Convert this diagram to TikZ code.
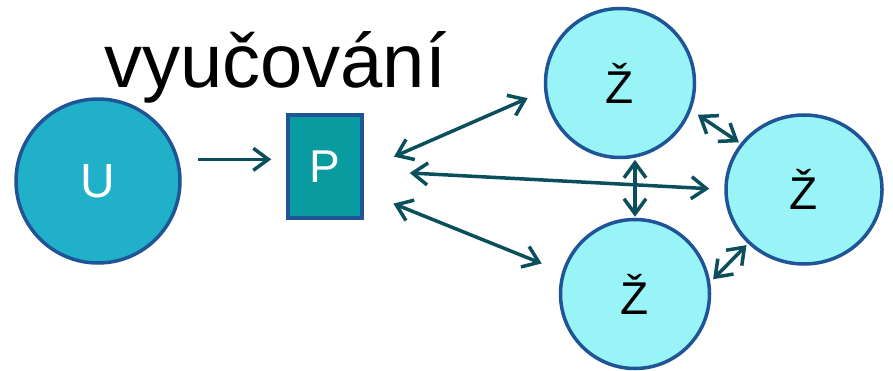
\documentclass[tikz,border=0pt]{standalone}
\usepackage{fontspec}
\setmainfont{Liberation Sans}
\usetikzlibrary{arrows.meta,shapes.geometric}
\definecolor{ucol}{RGB}{32,176,200}
\definecolor{pcol}{RGB}{8,156,160}
\definecolor{zcol}{RGB}{153,244,248}
\definecolor{bordercol}{RGB}{31,85,150}
\definecolor{arrcol}{RGB}{12,79,92}
\tikzset{
  bubble/.style={circle, draw=bordercol, line width=3.5pt, inner sep=0pt},
  zbubble/.style={bubble, fill=zcol, font=\fontsize{46}{50}\selectfont, text=black},
  conn/.style={draw=arrcol, line width=3.5pt},
  onehead/.style={conn, -{Straight Barb[length=15pt,width=22pt]}},
  twohead/.style={conn, {Straight Barb[length=15pt,width=22pt]}-{Straight Barb[length=15pt,width=22pt]}}
}
\begin{document}
\begin{tikzpicture}[x=1pt,y=-1pt]
\fill[white] (0,0) rectangle (893,371);
\useasboundingbox (0,0) rectangle (893,371);
\node[anchor=base west, inner sep=0pt, font=\fontsize{76}{80}\selectfont] (title) at (104,88) {vyučování};
\node[bubble, fill=ucol, minimum size=164pt, text=white, font=\fontsize{48}{52}\selectfont] (U) at (98,181) {U};
\node[rectangle, draw=bordercol, line width=3.5pt, fill=pcol, minimum width=74pt, minimum height=103pt, inner sep=0pt, text=white, font=\fontsize{46}{50}\selectfont] (P) at (325,166.5) {P};
\node[zbubble, minimum size=149pt] (Z1) at (620,83) {Ž};
\node[zbubble, ellipse, minimum width=156pt, minimum height=149pt] (Z2) at (804,189.5) {Ž};
\node[zbubble, minimum size=149pt] (Z3) at (635,294) {Ž};
\draw[onehead, shorten <=19pt, shorten >=15pt] (U.15) -- (U.15 -| P.west);
\draw[twohead, shorten <=33pt, shorten >=18pt] (P.-5) -- (Z1.186);
\draw[twohead, shorten <=46pt, shorten >=15pt] (P.-6) -- (Z2.west);
\draw[twohead, shorten <=32pt, shorten >=22pt] (P.-33) -- (Z3.163);
\draw[twohead, shorten <=2pt, shorten >=1pt] (Z3.north |- Z1.-79) -- (Z3.north);
\draw[twohead, shorten <=8pt, shorten >=2pt] (Z1.-21) -- (Z2.144);
\draw[twohead, shorten <=4pt, shorten >=2pt] (Z3.9) -- (Z2.224);
\end{tikzpicture}
\end{document}
